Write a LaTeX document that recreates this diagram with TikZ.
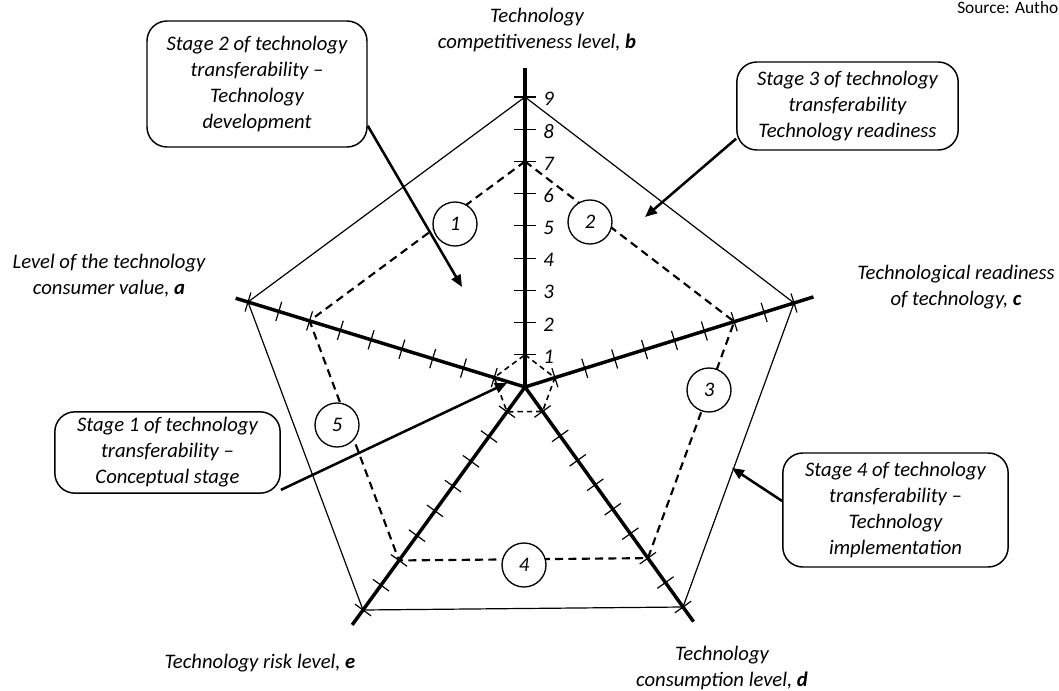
\documentclass[tikz,border=0pt]{standalone}
\usepackage{fontspec}
\setmainfont{Carlito}
\usetikzlibrary{calc,arrows.meta}
\begin{document}
\begin{tikzpicture}[x=0.75pt,y=-0.75pt,
  lab/.style={font=\fontsize{15.5}{19.5}\selectfont\itshape,align=center,inner sep=0pt},
  stagebox/.style={lab,draw,line width=1.1pt,rounded corners=15pt,fill=white},
  numc/.style={circle,draw,fill=white,line width=1pt,minimum size=33pt,inner sep=0pt,font=\fontsize{15.5}{19.5}\selectfont\itshape},
  axisline/.style={line width=2.6pt},
  outerline/.style={line width=0.9pt},
  dashline/.style={line width=1.6pt,dash pattern=on 6pt off 4pt},
  smalldash/.style={line width=1.2pt,dash pattern=on 4pt off 3pt},
  tickline/.style={line width=0.9pt},
  pointer/.style={line width=1.9pt,-{Triangle[length=9pt,width=7.5pt]}},
  ticknum/.style={font=\fontsize{15.5}{19.5}\selectfont\itshape,anchor=west,inner sep=0pt}
]
\path[use as bounding box] (0,0) rectangle (1059,691);
\coordinate (O) at (525,387);
\coordinate (Va) at (248,302);
\coordinate (Vb) at (525,97);
\coordinate (Vc) at (794,303);
\coordinate (Vd) at (683,607);
\coordinate (Ve) at (363,610);

% outer pentagon (level 9)
\draw[outerline] (Vb) -- (Vc) -- (Vd) -- (Ve) -- (Va) -- cycle;
% dashed pentagon (level 7)
\draw[dashline] ($(O)!7/9!(Vb)$) -- ($(O)!7/9!(Vc)$) -- ($(O)!7/9!(Vd)$) -- ($(O)!7/9!(Ve)$) -- ($(O)!7/9!(Va)$) -- cycle;
% small dashed pentagon (level 1)
\draw[smalldash] ($(O)!1/9!(Vb)$) -- ($(O)!1/9!(Vc)$) -- ($(O)!1/9!(Vd)$) -- ($(O)!1/9!(Ve)$) -- ($(O)!1/9!(Va)$) -- cycle;

% axes
\foreach \v/\e in {a/9.4,b/9.9,c/9.65,d/9.6,e/9.6}
  \draw[axisline] (O) -- ($(O)!\e/9!(V\v)$);

% ticks
\foreach \v in {a,c,d,e}{
  \foreach \k in {1,...,9}{
    \path ($(O)!\k/9!(V\v)$) coordinate (tk);
    \draw[tickline] ($(tk)!7.5pt!90:(O)$) -- ($(tk)!7.5pt!-90:(O)$);
  }
}
\foreach \k in {1,...,9}{
  \path ($(O)!\k/9!(Vb)$) coordinate (tk);
  \draw[tickline] ($(tk)!8.25pt!90:(O)$) -- ($(tk)!8.25pt!-90:(O)$);
  \node[ticknum] (n\k) at ($(O)!\k/9!(Vb)+(18,2)$) {\k};
}

% numbered circles
\node[numc] (c1) at (455,224) {1};
\node[numc] (c2) at (590,222) {2};
\node[numc] (c3) at (709,390) {3};
\node[numc] (c4) at (524,565) {4};
\node[numc] (c5) at (337,425) {5};

% axis labels
\node[lab] (lb) at (537,30) {Technology\\competitiveness level, \textbf{b}};
\node[lab] (la) at (109,276) {Level of the technology\\consumer value, \textbf{a}};
\node[lab] (lc) at (956,287) {Technological readiness\\of technology, \textbf{c}};
\node[lab] (ld) at (722,668) {Technology\\consumption level, \textbf{d}};
\node[lab] (le) at (260,663) {Technology risk level, \textbf{e}};
\node[font=\fontsize{13}{15}\selectfont,anchor=west,inner sep=0pt] (src) at (957,8) {Source: Autho};

% arrow tips
\coordinate (t1) at (507,383);
\coordinate (t2) at (462,287);
\coordinate (t3) at (645,217);
\coordinate (t4) at (732,468);

% stage boxes
\node[stagebox,minimum width=165pt,minimum height=94.5pt] (s2) at (257,84)
  {Stage 2 of technology\\transferability –\\Technology\\development};
\node[stagebox,minimum width=166pt,minimum height=66pt] (s3) at (847.5,106)
  {Stage 3 of technology\\transferability\\Technology readiness};
\node[stagebox,minimum width=169pt,minimum height=61pt] (s1) at (167.5,452.5)
  {Stage 1 of technology\\transferability –\\Conceptual stage};
\node[stagebox,minimum width=169pt,minimum height=85.5pt] (s4) at (895.5,510)
  {Stage 4 of technology\\transferability –\\Technology\\implementation};

% pointers
\draw[pointer] ([yshift=16.5pt]s2.south east) -- (t2);
\draw[pointer] ([yshift=9pt]s3.south west) -- (t3);
\draw[pointer] ([yshift=3pt]s1.south east) -- (t1);
\draw[pointer] ([yshift=6.75pt]s4.west) -- (t4);
\end{tikzpicture}
\end{document}
